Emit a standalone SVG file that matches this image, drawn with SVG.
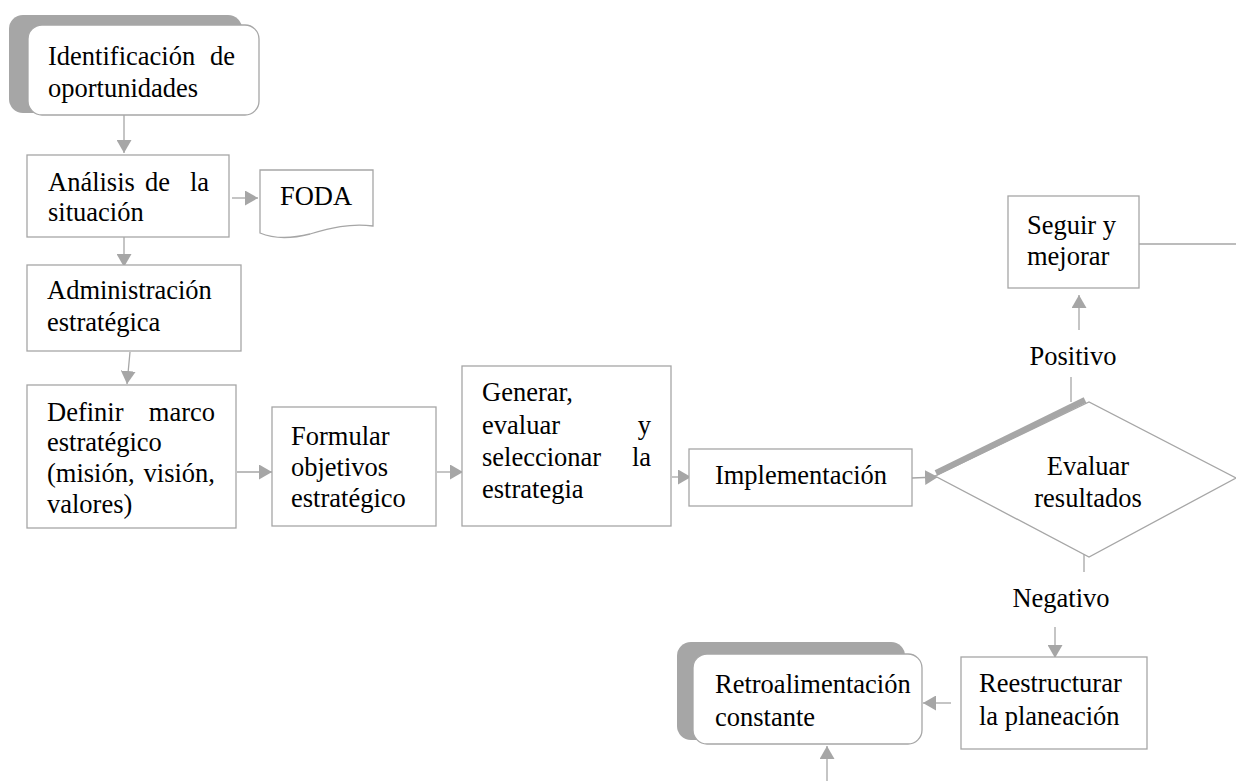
<svg xmlns="http://www.w3.org/2000/svg" width="1236" height="781" viewBox="0 0 1236 781">
<style>
  .box { fill: #ffffff; stroke: #a6a6a6; stroke-width: 1.3; }
  .shadow { fill: #a6a6a6; stroke: none; }
  .edge { fill: none; stroke: #a6a6a6; stroke-width: 1.3; }
  .arrow { fill: none; stroke: #a6a6a6; stroke-width: 1.3; marker-end: url(#ah); }
  text { font-family: "Liberation Serif", "Times New Roman", serif; font-size: 26.5px; fill: #000000; }
  .c { text-anchor: middle; }
  .e { text-anchor: end; }
</style>
<defs>
  <marker id="ah" markerUnits="userSpaceOnUse" markerWidth="13" markerHeight="15" refX="13" refY="7.5" orient="auto">
    <path d="M0,0 L13,7.5 L0,15 Z" fill="#a6a6a6"/>
  </marker>
  <clipPath id="clipDef"><rect x="27" y="385" width="209" height="134"/></clipPath>
</defs>

<g id="connectors">
  <line class="arrow" x1="124" y1="115" x2="124" y2="153"/>
  <line class="arrow" x1="232" y1="198" x2="258" y2="198"/>
  <line class="arrow" x1="124" y1="237" x2="124" y2="267"/>
  <line class="arrow" x1="130" y1="352" x2="127" y2="384"/>
  <line class="arrow" x1="237" y1="472" x2="272" y2="472"/>
  <line class="arrow" x1="437" y1="472" x2="463" y2="472"/>
  <line class="arrow" x1="672" y1="477" x2="691" y2="477"/>
  <line class="arrow" x1="912" y1="478" x2="938" y2="477"/>
  <line class="edge" x1="1071" y1="377" x2="1071" y2="402"/>
  <line class="arrow" x1="1079" y1="330" x2="1079" y2="295"/>
  <line class="edge" x1="1139" y1="244" x2="1236" y2="244"/>
  <line class="edge" x1="1084" y1="550" x2="1084" y2="572"/>
  <line class="arrow" x1="1055" y1="627" x2="1055" y2="658"/>
  <line class="arrow" x1="951" y1="703" x2="923" y2="703"/>
  <line class="arrow" x1="827" y1="781" x2="827" y2="746"/>
</g>

<g id="n-identificacion">
  <rect class="shadow" x="9" y="15" width="233" height="98" rx="14"/>
  <rect class="box" x="28" y="25" width="231" height="90" rx="14"/>
  <text x="48" y="65">Identificación</text>
  <text class="e" x="235" y="65">de</text>
  <text x="48" y="97">oportunidades</text>
</g>

<g id="n-analisis">
  <rect class="box" x="27" y="155" width="202" height="82"/>
  <text x="48" y="191">Análisis</text>
  <text x="145" y="191">de</text>
  <text class="e" x="209" y="191">la</text>
  <text x="48" y="221">situación</text>
</g>

<g id="n-foda">
  <path class="box" d="M260,170 H373 V226 C350,223 330,228 310,234 C290,239 272,238 260,233 Z"/>
  <text class="c" x="316" y="205">FODA</text>
</g>

<g id="n-administracion">
  <rect class="box" x="27" y="265" width="214" height="86"/>
  <text x="47" y="299">Administración</text>
  <text x="47" y="331">estratégica</text>
</g>

<g id="n-definir">
  <rect class="box" x="27" y="385" width="209" height="143"/>
  <g clip-path="url(#clipDef)">
    <text x="47" y="421">Definir</text>
    <text class="e" x="215" y="421">marco</text>
    <text x="47" y="451">estratégico</text>
    <text x="47" y="482">(misión,</text>
    <text class="e" x="215" y="482">visión,</text>
    <text x="47" y="513">valores)</text>
  </g>
</g>

<g id="n-formular">
  <rect class="box" x="272" y="407" width="164" height="119"/>
  <text x="291" y="445">Formular</text>
  <text x="291" y="476">objetivos</text>
  <text x="291" y="507">estratégico</text>
</g>

<g id="n-generar">
  <rect class="box" x="462" y="366" width="209" height="160"/>
  <text x="482" y="401">Generar,</text>
  <text x="482" y="434">evaluar</text>
  <text class="e" x="651" y="434">y</text>
  <text x="482" y="466">seleccionar</text>
  <text class="e" x="651" y="466">la</text>
  <text x="482" y="498">estrategia</text>
</g>

<g id="n-implementacion">
  <rect class="box" x="689" y="449" width="223" height="57"/>
  <text class="c" x="801" y="484">Implementación</text>
</g>

<g id="n-evaluar">
  <polygon class="box" points="935,476 1089,402 1236,478 1089,557"/>
  <line x1="936" y1="473" x2="1085" y2="400" stroke="#a6a6a6" stroke-width="6"/>
  <text class="c" x="1088" y="475">Evaluar</text>
  <text class="c" x="1088" y="507">resultados</text>
</g>

<g id="lbl-positivo">
  <text class="c" x="1073" y="365">Positivo</text>
</g>

<g id="n-seguir">
  <rect class="box" x="1008" y="196" width="131" height="92"/>
  <text x="1027" y="234">Seguir y</text>
  <text x="1027" y="265">mejorar</text>
</g>

<g id="lbl-negativo">
  <text class="c" x="1061" y="607">Negativo</text>
</g>

<g id="n-reestructurar">
  <rect class="box" x="961" y="657" width="186" height="92"/>
  <text x="979" y="692">Reestructurar</text>
  <text x="979" y="725">la planeación</text>
</g>

<g id="n-retro">
  <rect class="shadow" x="677" y="642" width="228" height="98" rx="14"/>
  <rect class="box" x="693" y="654" width="229" height="90" rx="14"/>
  <text x="715" y="693">Retroalimentación</text>
  <text x="715" y="726">constante</text>
</g>
</svg>
